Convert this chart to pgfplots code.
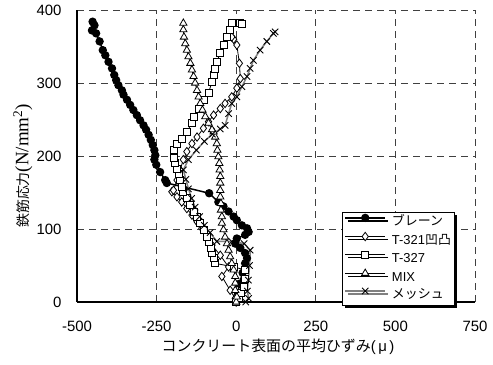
\documentclass[border=0pt]{standalone}
\usepackage{pgfplots}
\pgfplotsset{compat=1.18}
\usepackage{fontspec}
\setmainfont{Liberation Sans}
\newfontfamily\cjk{Noto Sans CJK JP}
\newfontfamily\serif{Liberation Serif}
\usetikzlibrary{shadows}

\begin{document}
\begin{tikzpicture}
\path[use as bounding box] (0,0) rectangle (493bp,365bp);
\begin{axis}[
  at={(77bp,63bp)}, anchor=south west,
  scale only axis, width=398bp, height=292bp,
  xmin=-500, xmax=750, ymin=0, ymax=400,
  xtick={-500,-250,0,250,500,750},
  xticklabels={-500,-250,0,250,500,750},
  ytick={0,100,200,300,400},
  yticklabels={0,100,200,300,400},
  axis x line*=bottom, axis y line*=left,
  axis line style={line width=1.5bp, -},
  major tick length=0pt,
  grid=major,
  major grid style={black!75, dash pattern=on 7bp off 5bp, line width=0.8bp},
  tick label style={font=\fontsize{15}{15}\selectfont},
  xticklabel style={yshift=-16bp},
  yticklabel style={xshift=-12bp},
  xlabel={{\cjk コンクリート表面の平均ひずみ}(\,μ\,)},
  ylabel={{\cjk\fontsize{14}{14}\selectfont 鉄筋応力}{\serif\fontsize{19}{19}\selectfont (N/mm\textsuperscript{2})}},
  xlabel style={at={(axis description cs:0.505,-0.154)}, anchor=center, font=\fontsize{15}{15}\selectfont},
  ylabel style={at={(axis description cs:-0.136,0.466)}, anchor=center},
  clip=false,
  legend cell align=left,
  legend style={at={(axis description cs:0.666,0.308)}, anchor=north west,
    draw=black, line width=0.8bp, fill=white,
    drop shadow={shadow xshift=3bp, shadow yshift=-3bp, fill=black, opacity=1},
    font=\fontsize{13}{13}\selectfont, inner sep=2bp, row sep=2.5bp,
    nodes={inner sep=1bp, text height=10bp, text depth=3bp}},
  legend image code/.code={\draw[mark repeat=2,mark phase=2,#1] plot coordinates {(0bp,4.5bp) (20bp,4.5bp) (40bp,4.5bp)}; \path (45bp,4.5bp);},
]
% Plain
\addplot[black, line width=1.5bp, mark=*, mark size=3.4bp, mark options={fill=black}] coordinates {
(0,0)(5,10)(10,25)(20,40)(28,53)(34,60)(28,67)(13,74)(-3,80)(2,87)(28,92)(39,96)(34,101)(18,105)(2,112)(-8,117)(-24,124)(-40,131)(-56,137)(-85,149)
(-218,163)(-223,167)(-239,178)(-251,188)(-257,195)(-254,201)(-257,208)(-262,215)(-268,222)(-275,229)(-283,236)(-291,242)(-302,249)(-312,256)(-323,263)(-333,270)(-343,277)(-354,284)(-359,290)(-370,297)(-377,304)(-383,311)(-390,320)(-401,329)(-411,338)(-419,345)(-429,357)(-440,368)(-453,372)(-445,379)(-451,384)
};
\addlegendentry{{\cjk ブレーン}}
% T-321
\addplot[black, line width=0.8bp, mark=diamond*, mark size=4.2bp, mark options={fill=white}] coordinates {
(0,0)(-3,5)(-19,16)(-45,35)(-24,48)(-50,64)(-76,78)(-92,89)(-108,101)(-123,110)(-139,119)(-155,128)(-171,137)(-186,144)(-202,151)(-197,153)(-186,167)(-176,181)(-166,195)(-155,206)(-139,217)(-123,226)(-103,238)(-87,247)(-71,256)(-50,265)(-35,272)(-14,281)(2,293)(13,306)(10,327)(2,352)(-8,360)(-14,363)
};
\addlegendentry{T-321{\cjk 凹凸}}
% T-327
\addplot[black, line width=0.8bp, mark=square*, mark size=3.5bp, mark options={fill=white}] coordinates {
(0,0)(7,5)(15,12)(23,21)(28,32)(28,44)(-8,48)(-66,53)(-71,60)(-76,67)(-79,74)(-87,83)(-92,89)(-103,99)(-113,108)(-123,117)(-134,124)(-144,133)(-155,142)(-166,151)(-171,158)(-176,167)(-181,176)(-186,183)(-192,190)(-197,197)(-197,208)(-186,217)(-171,224)(-155,233)(-139,245)(-134,254)(-118,265)(-103,277)(-87,286)(-76,302)(-71,311)(-66,320)(-61,329)(-50,341)(-40,352)(-29,363)(-19,373)(-14,382)(13,383)(18,381)
};
\addlegendentry{T-327}
% MIX
\addplot[black, line width=0.8bp, mark=triangle*, mark size=4.2bp, mark options={fill=white}] coordinates {
(0,0)(2,7)(-3,16)(-3,26)(-3,35)(-8,44)(-14,53)(-19,62)(-24,71)(-29,80)(-35,89)(-40,99)(-45,108)(-45,117)(-48,126)(-48,135)(-50,144)(-50,153)(-50,163)(-50,172)(-52,181)(-53,190)(-56,199)(-59,208)(-61,217)(-66,226)(-71,233)(-76,236)(-87,245)(-97,254)(-106,263)(-113,272)(-118,281)(-123,290)(-129,300)(-134,309)(-139,318)(-144,327)(-150,336)(-155,345)(-160,354)(-164,363)(-166,373)(-166,382)
};
\addlegendentry{MIX}
% Mesh
\addplot[gray, line width=1.5bp, mark=x, mark size=4.5bp, mark options={black, line width=0.9bp}] coordinates {
(30,0)(39,5)(35,15)(38,30)(42,50)(44,71)(25,80)(-14,83)(-61,83)(-82,95)(-100,105)(-115,117)(-129,130)(-140,142)(-150,155)(-158,168)(-166,181)(-150,195)(-125,208)(-100,220)(-75,230)(-50,237)(-35,242)(-24,258)(-14,272)(2,281)(18,295)(34,309)(44,320)(54,331)(75,345)(96,357)(117,368)(122,370)
};
\addlegendentry{{\cjk メッシュ}}
\end{axis}
\end{tikzpicture}
\end{document}
